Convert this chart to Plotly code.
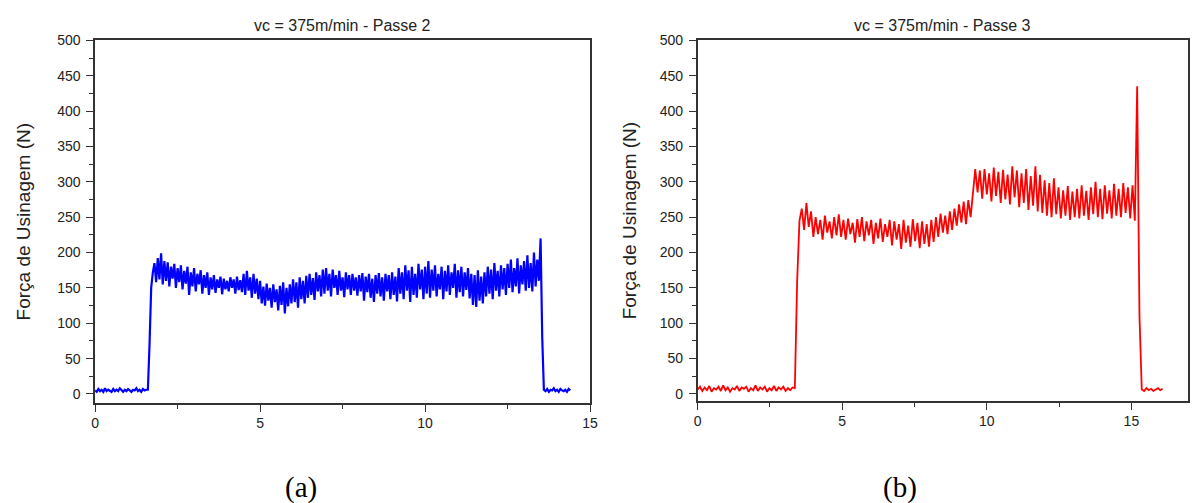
import numpy as np
import plotly.graph_objects as go

# ---- Passe 2 (blue) : sampled every 0.05 s ----
dt_a = 0.05
forca_a_inicio = [5, 3, 7, 4, 6, 3, 8, 4, 6, 5, 3, 7, 4, 6, 4, 8,
                  5, 3, 6, 4, 7, 5, 3, 6, 5, 8, 4, 6, 3, 7, 5, 6]
forca_a_corte = [
    6, 70, 150, 172, 185, 158, 192, 162,
    199, 155, 188, 160, 186, 152, 180, 163, 184, 150, 178, 158, 182, 148, 174, 156, 180, 140, 172, 152,
    178, 145, 170, 155, 175, 142, 168, 150, 172, 140, 165, 148, 168, 143, 162, 150, 166, 141, 163, 148,
    160, 145, 165, 150, 162, 142, 166, 147, 161, 144, 170, 140, 174, 146, 165, 136, 170, 142, 163, 134,
    160, 128, 152, 125, 156, 132, 150, 122, 155, 130, 148, 118, 153, 126, 158, 114, 150, 124, 155, 128,
    162, 130, 158, 122, 165, 134, 160, 128, 167, 136, 170, 140, 164, 133, 172, 145, 168, 138, 176, 142,
    178, 146, 170, 138, 176, 150, 168, 140, 174, 146, 165, 137, 172, 148, 168, 140, 170, 146, 165, 139,
    168, 145, 171, 132, 166, 144, 170, 136, 163, 130, 168, 142, 171, 138, 165, 132, 170, 145, 168, 134,
    172, 140, 166, 131, 178, 142, 172, 134, 182, 146, 175, 130, 180, 140, 170, 136, 184, 148, 176, 134,
    180, 142, 188, 136, 176, 146, 182, 138, 170, 148, 180, 134, 174, 145, 182, 140, 172, 150, 184, 136,
    175, 144, 180, 138, 172, 147, 178, 135, 170, 126, 168, 123, 175, 132, 166, 128, 172, 138, 180, 142,
    176, 134, 185, 146, 174, 138, 182, 148, 178, 140, 184, 150, 190, 144, 178, 152, 192, 142, 182, 155,
    188, 146, 196, 150, 185, 145, 200, 152, 190, 160, 220, 80, 6,
]
forca_a_fim = [4, 7, 3, 6, 5, 8, 4, 6, 3, 7, 5, 4, 6, 3, 7, 5]

# ---- Passe 3 (red) : sampled every 0.08 s ----
dt_b = 0.08
forca_b_inicio = [6, 10, 4, 9, 5, 11, 3, 8, 6, 10, 4, 12, 5, 9, 3, 8, 6, 11, 4, 9, 7, 10,
                  3, 8, 5, 12, 4, 9, 6, 10, 3, 8, 5, 11, 4, 9, 6, 10, 4, 8, 5, 9, 8]
forca_b_corte = [
    160, 245, 262, 232, 270, 236, 258,
    222, 250, 226, 246, 218, 252, 228, 244, 220, 250, 224, 254, 222,
    246, 218, 248, 226, 242, 214, 247, 222, 250, 216, 244, 224, 246, 212, 242, 220, 248, 215, 240, 222, 246,
    210, 244, 218, 240, 205, 246, 214, 238, 208, 247, 216, 242, 206, 244, 212, 240, 208, 246, 215,
    250, 222, 255, 228, 252, 226, 258, 232, 262,
    238, 268, 242, 272, 240, 274, 250,
    285, 318,
    285, 316, 276, 318, 282, 312, 272, 320, 280, 314, 270, 317, 275, 310, 268, 322, 278,
    316, 264, 312, 270, 318, 260, 308, 266, 322, 258, 310,
    256, 302, 252, 298, 250, 305, 254,
    292, 248, 288, 252, 294, 246, 286, 250, 290, 248, 295, 252, 287, 246, 292, 254, 300,
    250, 290, 247, 295, 255, 288, 248, 297, 252, 290, 250, 298, 256, 292, 248, 295, 245,
    435, 110,
]
forca_b_fim = [6, 4, 8, 5, 7, 4, 6, 8, 5, 7]

assert len(forca_a_inicio) == 32 and len(forca_a_corte) == 241 and len(forca_a_fim) == 16
assert len(forca_b_inicio) == 43 and len(forca_b_corte) == 149 and len(forca_b_fim) == 10

forca_a = forca_a_inicio + forca_a_corte + forca_a_fim
forca_b = forca_b_inicio + forca_b_corte + forca_b_fim
tempo_a = np.arange(len(forca_a)) * dt_a
tempo_b = np.arange(len(forca_b)) * dt_b

titulos = ["vc = 375m/min - Passe 2", "vc = 375m/min - Passe 3"]
rotulo_y = "Força de Usinagem (N)"
legendas = ["(a)", "(b)"]

W, H = 1201, 503
fig = go.Figure()
fig.add_trace(go.Scatter(x=tempo_a, y=forca_a, mode="lines",
                         line=dict(color="#0000ff", width=2.2), xaxis="x", yaxis="y",
                         showlegend=False))
fig.add_trace(go.Scatter(x=tempo_b, y=forca_b, mode="lines",
                         line=dict(color="#ff0000", width=1.8), xaxis="x2", yaxis="y2",
                         showlegend=False))

sans = "Liberation Sans, Arial, sans-serif"
fonte = dict(family=sans, size=14, color="#222")


def eixo(**kw):
    base = dict(showline=True, mirror=True, linecolor="#333", linewidth=1.5,
                showgrid=False, zeroline=False, ticks="outside", ticklen=7,
                tickwidth=1.3, tickcolor="#333", tickfont=fonte)
    base.update(kw)
    return base


# plot boxes in pixels: (left, right, top, bottom)
caixa_a = (92, 592, 33, 402)
caixa_b = (700.7, 1195.7, 33, 400)


def dom_x(c):
    return [c[0] / W, c[1] / W]


def dom_y(c):
    return [1 - c[3] / H, 1 - c[2] / H]


fig.update_layout(
    width=W, height=H, margin=dict(l=0, r=0, t=0, b=0),
    paper_bgcolor="white", plot_bgcolor="white",
    xaxis=eixo(domain=dom_x(caixa_a), range=[0, 15], dtick=5, anchor="y",
               minor=dict(ticks="outside", ticklen=4, dtick=2.5, tickcolor="#333")),
    yaxis=eixo(domain=dom_y(caixa_a), range=[-12.5, 500], dtick=50, anchor="x",
               ticklabelstandoff=3,
               minor=dict(ticks="outside", ticklen=4, dtick=25, tickcolor="#333")),
    xaxis2=eixo(domain=dom_x(caixa_b), range=[0, 16.95], dtick=5, anchor="y2",
                minor=dict(ticks="outside", ticklen=4, dtick=2.5, tickcolor="#333")),
    yaxis2=eixo(domain=dom_y(caixa_b), range=[-10, 500], dtick=50, anchor="x2",
                ticklabelstandoff=3,
                minor=dict(ticks="outside", ticklen=4, dtick=25, tickcolor="#333")),
)

anotacoes = []
for c, titulo, xr in [(caixa_a, titulos[0], 20), (caixa_b, titulos[1], 632)]:
    cx = (c[0] + c[1]) / 2 / W
    anotacoes.append(dict(text=titulo, x=cx, y=1 - 18 / H, xref="paper", yref="paper",
                          showarrow=False, xanchor="center", yanchor="middle",
                          font=dict(family=sans, size=16, color="#222")))
    anotacoes.append(dict(text=rotulo_y, x=xr / W, y=1 - (c[2] + c[3]) / 2 / H,
                          xref="paper", yref="paper", showarrow=False, textangle=-90,
                          xanchor="center", yanchor="middle",
                          font=dict(family=sans, size=19, color="#222")))
for leg, xc in [(legendas[0], 300), (legendas[1], 905)]:
    anotacoes.append(dict(text=leg, x=xc / W, y=1 - 488 / H, xref="paper", yref="paper",
                          showarrow=False, xanchor="center", yanchor="middle",
                          font=dict(family="Liberation Serif, Times New Roman, serif",
                                    size=29, color="black")))
fig.update_layout(annotations=anotacoes)

fig.write_html("out.html")
